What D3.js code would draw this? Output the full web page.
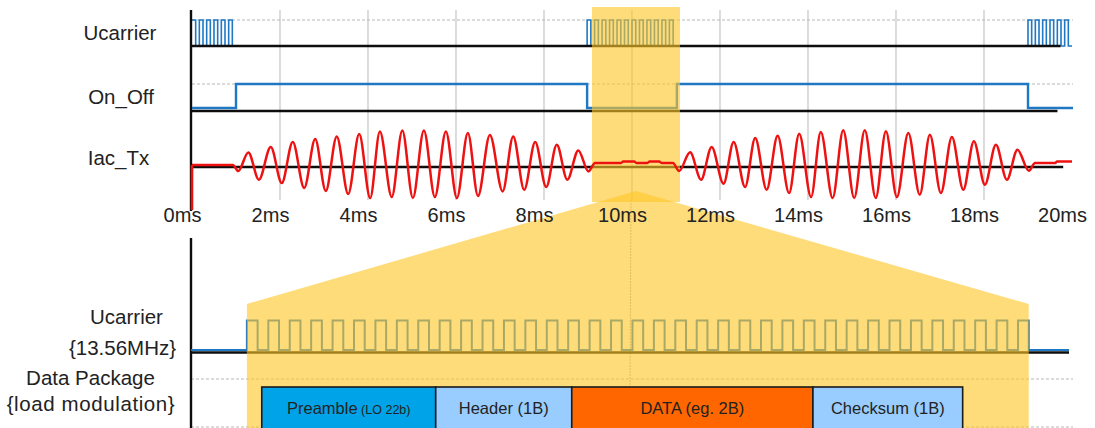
<!DOCTYPE html>
<html>
<head>
<meta charset="utf-8">
<script src="https://cdn.jsdelivr.net/npm/d3@7/dist/d3.min.js"></script>
<style>
  html, body { margin: 0; padding: 0; background: #fff; }
  svg { display: block; }
  text { font-family: "Liberation Sans", Arial, sans-serif; fill: #222; }
</style>
</head>
<body>
<svg id="chart" width="1095" height="428"></svg>
<script>
// ---- data ----------------------------------------------------------------
const tickValues = [0, 2, 4, 6, 8, 10, 12, 14, 16, 18, 20];
const tickLabels = ["0ms", "2ms", "4ms", "6ms", "8ms", "10ms", "12ms", "14ms", "16ms", "18ms", "20ms"];
const gridValues = [2, 4, 6, 8, 10, 12, 14, 16, 18];

// carrier bursts on the overview (ms), levels per half period
const carrierStart = [0, 8.98, 19.0];
const carrierEnd   = [1.0, 11.02, 20.0];
const carrierLevels = [
  "101010101010",
  "101010101010101010101010",
  "101010101010"
];

// On_Off control line (ms, level)
const onOffSteps = [[0, 0], [1.0, 1], [8.98, 0], [11.02, 1], [19.0, 0], [20.0, 0]];

// Iac_Tx coil current: turn-on step, then turning points (ms, value)
const iacStep = [[0, -43], [0, 2]];
const iacPoints = [
  [0, 2], [0.93, 2], [1.05, -4],
  [1.28, 14.6], [1.52, -12.7], [1.79, 20], [2.04, -16], [2.29, 25], [2.55, -21],
  [2.80, 28], [3.04, -24], [3.29, 30.6], [3.55, -27], [3.80, 33], [4.05, -31],
  [4.27, 35.6], [4.54, -30], [4.78, 36.6], [5.02, -31], [5.27, 36.6], [5.52, -30],
  [5.77, 35.6], [6.02, -31], [6.27, 34], [6.50, -29], [6.77, 32], [7.06, -24.4],
  [7.30, 30.6], [7.55, -22.7], [7.80, 25], [8.05, -20], [8.29, 22.3], [8.53, -12.7],
  [8.78, 16.6], [9.01, -4.4],
  [9.16, 4], [9.75, 4], [9.80, 5.5], [10.05, 5.5], [10.10, 4], [10.35, 4],
  [10.40, 5.5], [10.62, 5.5], [10.67, 4], [10.93, 4], [11.07, -4],
  [11.32, 14.7], [11.57, -12.7], [11.81, 20], [12.08, -16.7], [12.31, 25], [12.57, -20],
  [12.80, 29], [13.06, -22.7], [13.31, 31.3], [13.57, -26], [13.80, 33.3], [14.07, -30],
  [14.29, 35], [14.56, -31], [14.80, 36.7], [15.05, -31], [15.29, 36.7], [15.54, -31],
  [15.77, 35.7], [16.02, -30], [16.28, 34], [16.54, -27.7], [16.77, 32.3], [17.02, -26],
  [17.27, 30], [17.53, -22.7], [17.77, 25.7], [18.02, -17.7], [18.27, 22.3], [18.52, -12.7],
  [18.76, 17.3], [19.02, -3.7],
  [19.16, 4], [19.62, 4], [19.66, 5.5], [19.92, 5.5], [20.0, 5.5]
];

// zoomed window (ms) and its 13.56 MHz carrier half periods
const windowStart = 9.09, windowEnd = 11.09;
const zoomLevels = "10101010101010101010" + "10101010101010101010" +
                   "10101010101010101010" + "101010101010" + "1";

// data package fields inside the window (ms)
const packetNames  = ["Preamble", "Header (1B)", "DATA (eg. 2B)", "Checksum (1B)"];
const packetNotes  = ["(LO 22b)", "", "", ""];
const packetStarts = [9.128, 9.573, 9.921, 10.538];
const packetEnds   = [9.573, 9.921, 10.538, 10.921];
const packetColors = ["#00a2e8", "#99ccff", "#ff6600", "#99ccff"];

// ---- scales --------------------------------------------------------------
const svg = d3.select("#chart");
const x = d3.scaleLinear().domain([0, 20]).range([192, 1072]);
const yCar = d3.scaleLinear().domain([0, 1]).range([46, 20]);
const yOn = d3.scaleLinear().domain([0, 1]).range([108, 84]);
const yIac = d3.scaleLinear().domain([-40, 40]).range([207, 127]);
const xZoom = d3.scaleLinear().domain([8.947, 11.193]).range([191, 1069]);
const yZoom = d3.scaleLinear().domain([0, 1]).range([350, 320.5]);

const BLUE = "#1f78c4";
const RED = "#ee1111";
const gridCol = "#c4c4c4";

// ---- grid ----------------------------------------------------------------
const grid = svg.append("g");
grid.selectAll("line.v").data(gridValues).join("line")
  .attr("x1", d => x(d)).attr("x2", d => x(d))
  .attr("y1", 10).attr("y2", 200)
  .attr("stroke", gridCol).attr("stroke-width", 1.2);
// time-window marker continues into the detail view
grid.append("line")
  .attr("x1", x(10) - 1).attr("x2", x(10) - 2).attr("y1", 200).attr("y2", 387)
  .attr("stroke", "#999").attr("stroke-width", 0.8).attr("stroke-dasharray", "2,1");
[[yCar(1), x(20) + 1], [yOn(1), x(20) + 1]].forEach(([yy, x2]) => {
  grid.append("line").attr("x1", 192).attr("x2", x2).attr("y1", yy).attr("y2", yy)
    .attr("stroke", "#b8b8b8").attr("stroke-width", 1).attr("stroke-dasharray", "3,2");
});
[379, 427].forEach(yy => {
  grid.append("line").attr("x1", 191).attr("x2", 1073).attr("y1", yy).attr("y2", yy)
    .attr("stroke", "#b8b8b8").attr("stroke-width", 1).attr("stroke-dasharray", "3,2");
});

// ---- overview carrier (under its baseline) -------------------------------
function carrierPoints() {
  const pts = [];
  carrierLevels.forEach((lv, i) => {
    const n = lv.length, step = (carrierEnd[i] - carrierStart[i]) / n;
    for (let k = 0; k < n; k++) pts.push([carrierStart[i] + k * step, +lv[k]]);
    pts.push([carrierEnd[i], 0]);
  });
  return pts;
}
const stepLine = (xs, ys) => d3.line().x(d => xs(d[0])).y(d => ys(d[1])).curve(d3.curveStepAfter);

svg.append("path").datum(carrierPoints())
  .attr("d", stepLine(x, yCar)).attr("fill", "none")
  .attr("stroke", BLUE).attr("stroke-width", 1.6);

// ---- baselines and axes --------------------------------------------------
const base = svg.append("g").attr("stroke", "#0d0d0d").attr("stroke-width", 2.4);
base.append("line").attr("x1", 191).attr("x2", x(19.74)).attr("y1", yCar(0)).attr("y2", yCar(0));
base.append("line").attr("x1", 191).attr("x2", x(19.67)).attr("y1", 111).attr("y2", 111);
base.append("line").attr("x1", 191).attr("x2", x(19.8)).attr("y1", yIac(0)).attr("y2", yIac(0));
base.append("line").attr("x1", 191).attr("x2", 191).attr("y1", 10).attr("y2", 211);
base.append("line").attr("x1", 191).attr("x2", 191).attr("y1", 238).attr("y2", 428);
base.append("line").attr("x1", 191).attr("x2", 1069).attr("y1", 352.5).attr("y2", 352.5);

// ---- On_Off and zoomed carrier -------------------------------------------
svg.append("path").datum(onOffSteps)
  .attr("d", d3.line().x(d => d[0] >= 20 ? x(d[0]) + 1 : x(d[0])).y(d => yOn(d[1])).curve(d3.curveStepAfter))
  .attr("fill", "none").attr("stroke", BLUE).attr("stroke-width", 2.4);

const zoomPts = [[8.947, 0]];
const half = (windowEnd - windowStart) / zoomLevels.length;
for (let k = 0; k < zoomLevels.length; k++) zoomPts.push([windowStart + k * half, +zoomLevels[k]]);
zoomPts.push([windowEnd, 0], [11.193, 0]);
svg.append("path").datum(zoomPts)
  .attr("d", stepLine(xZoom, yZoom)).attr("fill", "none")
  .attr("stroke", BLUE).attr("stroke-width", 2);

// ---- highlighted window and its magnification ---------------------------
const hl = svg.append("g").attr("fill", "#ffc629").attr("fill-opacity", 0.62);
hl.append("rect")
  .attr("x", x(windowStart)).attr("y", 7)
  .attr("width", x(windowEnd) - x(windowStart)).attr("height", 195);
const apexX = (x(windowStart) + x(windowEnd)) / 2;
hl.append("path").attr("d", d3.line()([
  [apexX, 191], [xZoom(windowStart), 304], [xZoom(windowStart), 428],
  [xZoom(windowEnd), 428], [xZoom(windowEnd), 304]
]) + "Z");

// ---- Iac_Tx ---------------------------------------------------------------
svg.append("path").datum(iacStep)
  .attr("d", d3.line().x(d => x(d[0])).y(d => yIac(d[1])))
  .attr("fill", "none").attr("stroke", RED).attr("stroke-width", 2.6);
svg.append("path").datum(iacPoints)
  .attr("d", d3.line().x(d => x(d[0])).y(d => yIac(d[1])).curve(d3.curveMonotoneX))
  .attr("fill", "none").attr("stroke", RED).attr("stroke-width", 2.5)
  .attr("stroke-linejoin", "round");

// ---- axis labels ---------------------------------------------------------
const axis = d3.axisBottom(x).tickValues(tickValues)
  .tickFormat((d, i) => tickLabels[i]).tickSize(0).tickPadding(0);
const axG = svg.append("g").attr("transform", "translate(-10,207.5)").call(axis);
axG.select(".domain").remove();
axG.selectAll("text").attr("font-size", 20)
  .attr("font-family", "'Liberation Sans', Arial, sans-serif").attr("fill", "#222");

const rowLabels = [
  { t: "Ucarrier", x: 120, y: 39.5 },
  { t: "On_Off", x: 121, y: 103.5 },
  { t: "Iac_Tx", x: 118.5, y: 165 },
  { t: "Ucarrier", x: 126.5, y: 324 },
  { t: "{13.56MHz}", x: 122.5, y: 355 },
  { t: "Data Package", x: 90.5, y: 385 },
  { t: "{load modulation}", x: 91, y: 411, ls: 0.6 }
];
svg.append("g").selectAll("text").data(rowLabels).join("text")
  .attr("x", d => d.x).attr("y", d => d.y).attr("text-anchor", "middle")
  .attr("font-size", 20.5).attr("letter-spacing", d => d.ls || 0)
  .text(d => d.t);

// ---- data package fields -------------------------------------------------
const pk = svg.append("g").selectAll("g").data(packetNames).join("g");
pk.append("rect")
  .attr("x", (d, i) => xZoom(packetStarts[i])).attr("y", 387)
  .attr("width", (d, i) => xZoom(packetEnds[i]) - xZoom(packetStarts[i]))
  .attr("height", 60)
  .attr("fill", (d, i) => packetColors[i]).attr("stroke", "#1a1a1a").attr("stroke-width", 1.6);
const pt = pk.append("text")
  .attr("x", (d, i) => (xZoom(packetStarts[i]) + xZoom(packetEnds[i])) / 2)
  .attr("y", 414).attr("text-anchor", "middle").attr("font-size", 16.5)
  .attr("fill", "#1a1a1a");
pt.append("tspan").text(d => d);
pt.filter((d, i) => packetNotes[i]).append("tspan")
  .attr("font-size", 12.5).text((d, i) => " " + packetNotes[i]);
</script>
</body>
</html>
